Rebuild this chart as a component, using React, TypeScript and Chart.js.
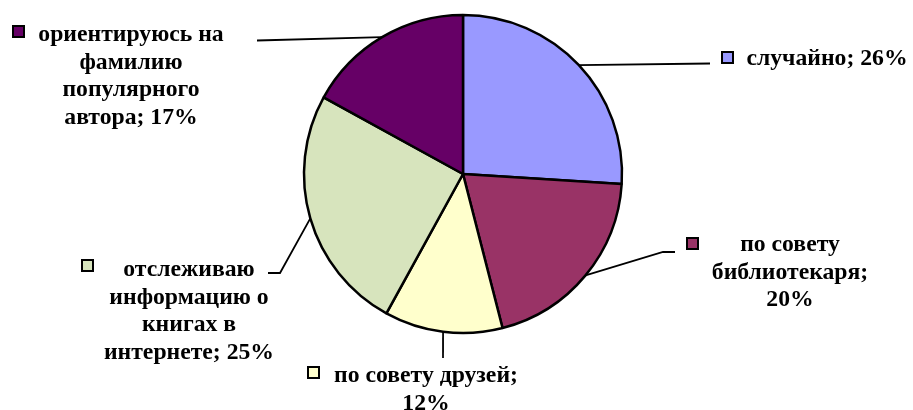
import React, { useEffect, useRef } from "react";
import { Chart, registerables } from "chart.js";

Chart.register(...registerables);

const categories = [
  "случайно",
  "по совету библиотекаря",
  "по совету друзей",
  "отслеживаю информацию о книгах в интернете",
  "ориентируюсь на фамилию популярного автора",
];
const values = [26, 20, 12, 25, 17];
const colors = ["#9999FF", "#993366", "#FFFFCC", "#D7E4BD", "#660066"];

// label layout: text block centre x, first line centre y, wrap width, key square, leader anchor points
const labelLayout = [
  { cx: 827, y0: 59, maxW: 300, sq: [722, 52], leader: [[710, 63.5]] },
  { cx: 790, y0: 245, maxW: 170, sq: [687, 238], leader: [[675, 252], [663, 252]] },
  { cx: 426, y0: 376, maxW: 205, sq: [308, 367], leader: [[443, 358]] },
  { cx: 189, y0: 270, maxW: 180, sq: [82, 260], leader: [[268, 273], [280, 273]] },
  { cx: 131, y0: 35, maxW: 200, sq: [13, 26], leader: [[257, 40.5]] },
];

const FONT = "bold 23.7px 'Liberation Serif', 'Times New Roman', serif";
const LINE_H = 27.5;
const SQ = 11;

function wrap(ctx: CanvasRenderingContext2D, text: string, maxW: number): string[] {
  const words = text.split(" ");
  const lines: string[] = [];
  let cur = "";
  for (const w of words) {
    const t = cur ? cur + " " + w : w;
    if (cur && ctx.measureText(t).width > maxW) {
      lines.push(cur);
      cur = w;
    } else cur = t;
  }
  if (cur) lines.push(cur);
  return lines;
}

const labelPlugin = {
  id: "pieLabels",
  afterDatasetsDraw(chart: any) {
    const ctx: CanvasRenderingContext2D = chart.ctx;
    const meta = chart.getDatasetMeta(0);
    ctx.save();
    meta.data.forEach((arc: any, i: number) => {
      const p = arc.getProps(["x", "y", "startAngle", "endAngle", "outerRadius"], true);
      const mid = (p.startAngle + p.endAngle) / 2;
      const ax = p.x + Math.cos(mid) * p.outerRadius;
      const ay = p.y + Math.sin(mid) * p.outerRadius;
      const L = labelLayout[i];
      // leader line
      ctx.strokeStyle = "#000";
      ctx.lineWidth = 1.8;
      ctx.beginPath();
      ctx.moveTo(L.leader[0][0], L.leader[0][1]);
      for (let k = 1; k < L.leader.length; k++) ctx.lineTo(L.leader[k][0], L.leader[k][1]);
      ctx.lineTo(ax, ay);
      ctx.stroke();
      // key square
      ctx.fillStyle = colors[i];
      ctx.fillRect(L.sq[0], L.sq[1], SQ, SQ);
      ctx.lineWidth = 2;
      ctx.strokeRect(L.sq[0], L.sq[1], SQ, SQ);
      // text
      ctx.font = FONT;
      ctx.fillStyle = "#000";
      ctx.textAlign = "center";
      ctx.textBaseline = "middle";
      const text = `${categories[i]}; ${values[i]}%`;
      const lines = wrap(ctx, text, L.maxW);
      lines.forEach((ln, j) => {
        ctx.fillText(ln, L.cx, L.y0 + j * LINE_H);
      });
    });
    ctx.restore();
  },
};

export default function App() {
  const ref = useRef<HTMLCanvasElement>(null);
  useEffect(() => {
    if (!ref.current) return;
    const chart = new Chart(ref.current, {
      type: "pie",
      data: {
        labels: categories,
        datasets: [
          {
            data: values,
            backgroundColor: colors,
            borderColor: "#000",
            borderWidth: 2.5,
            hoverOffset: 0,
            offset: 0,
          },
        ],
      },
      options: {
        responsive: false,
        animation: false,
        radius: 159,
        layout: { padding: { left: 13, right: 0, top: 0, bottom: 62 } },
        plugins: {
          legend: { display: false },
          tooltip: { enabled: false },
          title: { display: false },
        },
      } as any,
      plugins: [labelPlugin],
    });
    return () => chart.destroy();
  }, []);
  return (
    <div style={{ position: "absolute", left: 0, top: 0, width: 913, height: 410, background: "#fff" }}>
      <canvas ref={ref} width={913} height={410} style={{ display: "block" }} />
    </div>
  );
}
